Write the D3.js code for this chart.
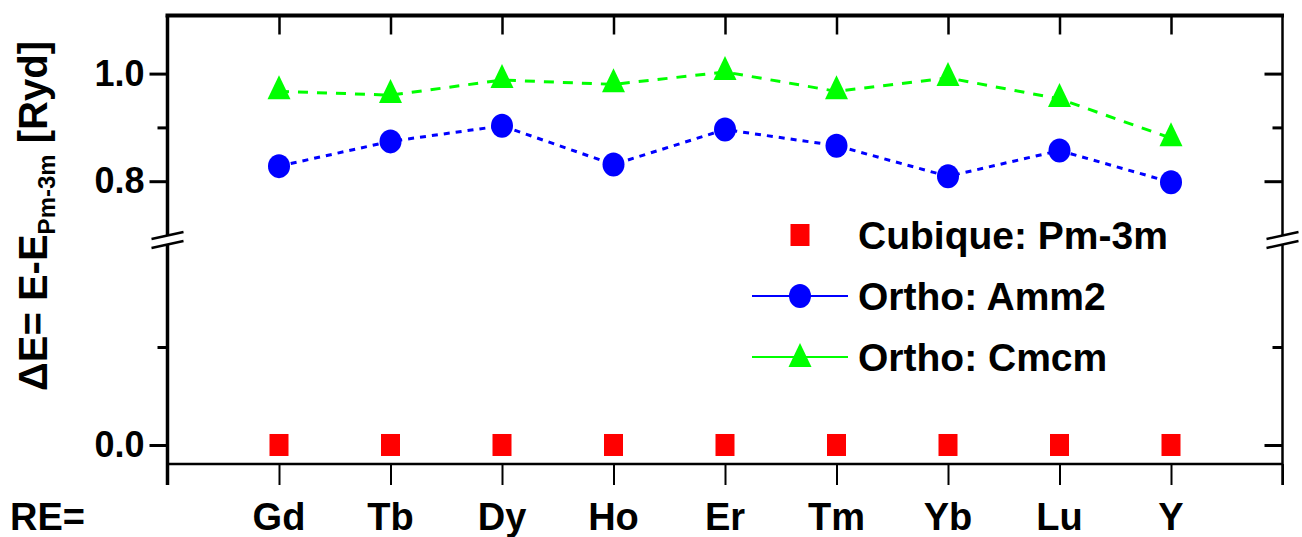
<!DOCTYPE html>
<html><head><meta charset="utf-8">
<script src="https://cdn.jsdelivr.net/npm/d3@7"></script>
<style>
html,body{margin:0;padding:0;background:#fff;}
svg{display:block;font-family:"Liberation Sans",Arial,Helvetica,sans-serif;font-weight:bold;}
</style></head><body>
<svg id="chart" width="1302" height="537"></svg>
<script>
// Rare-earth elements (RE) on the x axis
const elements = ["Gd", "Tb", "Dy", "Ho", "Er", "Tm", "Yb", "Lu", "Y"];
// Energy differences relative to the cubic Pm-3m phase [Ryd]
const cubicPm3m = [0, 0, 0, 0, 0, 0, 0, 0, 0];
const orthoAmm2 = [0.828, 0.874, 0.903, 0.831, 0.896, 0.866, 0.809, 0.857, 0.798];
const orthoCmcm = [0.967, 0.960, 0.988, 0.980, 1.003, 0.967, 0.992, 0.953, 0.880];
const seriesNames = ["Cubique: Pm-3m", "Ortho: Amm2", "Ortho: Cmcm"];
// Tick values of the broken y axis
const upperMajorTicks = [0.8, 1.0];
const upperMinorTicks = [0.9];
const lowerMajorTicks = [0.0];
const lowerMinorTicks = [0.1];

const RED = "#ff0000", BLUE = "#0000ff", GREEN = "#00ff00";
const svg = d3.select("#chart");

const L = 167.5, R = 1282.5, T = 15.5, B = 464;
const breakUpper = 235, breakLower = 244;

const x = d3.scaleLinear().domain([0, 10]).range([L, R]);
const yUp = d3.scaleLinear().domain([0.70, 1.108]).range([breakUpper, T]);
const yLow = d3.scaleLinear().domain([-0.0194, 0.2061]).range([B, 243]);

const fmt = d3.format(".1f");

// ---- axes ----
const axes = svg.append("g");

function styleAxis(g, width) {
  g.select(".domain").remove();
  g.selectAll(".tick line").attr("stroke", "#000").attr("stroke-width", width);
  g.selectAll(".tick text").attr("fill", "#000");
}

// bottom axis: ticks at every element plus both frame ends
const xBottom = axes.append("g").attr("transform", `translate(0,${B})`)
  .call(d3.axisBottom(x).tickValues(d3.range(0, 11)).tickSize(21).tickFormat(""));
styleAxis(xBottom, 2);

// top axis: inward ticks at each element
const xTop = axes.append("g").attr("transform", `translate(0,${T})`)
  .call(d3.axisTop(x).tickValues(d3.range(1, 10)).tickSize(-19).tickFormat(""));
styleAxis(xTop, 2.5);

// element labels
axes.append("g").selectAll("text").data(elements).join("text")
  .attr("x", (d, i) => x(i + 1)).attr("y", 530)
  .attr("text-anchor", "middle").attr("font-size", 38).text(d => d);
axes.append("text").attr("x", 10).attr("y", 530).attr("font-size", 38).text("RE=");

// left axis (outward ticks), both segments
function leftAxis(scale, major, minor) {
  const gM = axes.append("g").attr("transform", `translate(${L},0)`)
    .call(d3.axisLeft(scale).tickValues(major).tickSize(18).tickPadding(5).tickFormat(fmt));
  styleAxis(gM, 3);
  gM.selectAll(".tick text").attr("font-size", 36).attr("font-family", "Liberation Sans, Arial, sans-serif");
  const gm = axes.append("g").attr("transform", `translate(${L},0)`)
    .call(d3.axisLeft(scale).tickValues(minor).tickSize(10).tickFormat(""));
  styleAxis(gm, 3);
}
leftAxis(yUp, upperMajorTicks, upperMinorTicks);
leftAxis(yLow, lowerMajorTicks, lowerMinorTicks);

// right axis (inward ticks)
function rightAxis(scale, major, minor) {
  const gM = axes.append("g").attr("transform", `translate(${R},0)`)
    .call(d3.axisRight(scale).tickValues(major).tickSize(-18).tickFormat(""));
  styleAxis(gM, 3);
  const gm = axes.append("g").attr("transform", `translate(${R},0)`)
    .call(d3.axisRight(scale).tickValues(minor).tickSize(-10).tickFormat(""));
  styleAxis(gm, 3);
}
rightAxis(yUp, upperMajorTicks, upperMinorTicks);
rightAxis(yLow, lowerMajorTicks, lowerMinorTicks);

// frame lines
const frame = axes.append("g").attr("stroke", "#000").attr("fill", "none");
frame.append("line").attr("x1", L - 2).attr("x2", R + 1.5).attr("y1", T).attr("y2", T).attr("stroke-width", 4);
frame.append("line").attr("x1", L).attr("x2", R).attr("y1", B).attr("y2", B).attr("stroke-width", 2.5);
[[L, 3.5], [R, 2.5]].forEach(([xx, w]) => {
  frame.append("line").attr("x1", xx).attr("x2", xx).attr("y1", T).attr("y2", breakUpper).attr("stroke-width", w);
  frame.append("line").attr("x1", xx).attr("x2", xx).attr("y1", breakLower).attr("y2", B + 21).attr("stroke-width", w);
  // axis break marks
  const bm = axes.append("g").attr("stroke", "#000").attr("stroke-width", 2.5);
  bm.append("line").attr("x1", xx - 16).attr("y1", breakUpper + 4).attr("x2", xx + 16).attr("y2", breakUpper - 3);
  bm.append("line").attr("x1", xx - 16).attr("y1", breakLower + 4).attr("x2", xx + 16).attr("y2", breakLower - 3);
});

// y axis title
const title = svg.append("text")
  .attr("transform", "translate(47,216) rotate(-90)")
  .attr("text-anchor", "middle").attr("font-size", 40);
title.append("tspan").text("ΔE= E-E");
title.append("tspan").attr("font-size", 24).attr("dy", 8).text("Pm-3m");
title.append("tspan").attr("dy", -8).text(" [Ryd]");

// ---- data ----
const plot = svg.append("g");
const idx = d3.range(elements.length);

// custom tall triangle, anchored at its centroid
const triPath = "M0,-16L11.5,8L-11.5,8Z";

const lineUp = d3.line().x(i => x(i + 1));

plot.append("path")
  .attr("d", lineUp.y(i => yUp(orthoCmcm[i]))(idx))
  .attr("fill", "none").attr("stroke", GREEN).attr("stroke-width", 3)
  .attr("stroke-dasharray", "10,9");
plot.append("path")
  .attr("d", lineUp.y(i => yUp(orthoAmm2[i]))(idx))
  .attr("fill", "none").attr("stroke", BLUE).attr("stroke-width", 3)
  .attr("stroke-dasharray", "6,6");

plot.append("g").selectAll("path").data(idx).join("path")
  .attr("d", triPath).attr("fill", GREEN)
  .attr("transform", i => `translate(${x(i + 1)},${yUp(orthoCmcm[i])})`);
plot.append("g").selectAll("ellipse").data(idx).join("ellipse")
  .attr("cx", i => x(i + 1)).attr("cy", i => yUp(orthoAmm2[i]))
  .attr("rx", 11).attr("ry", 12).attr("fill", BLUE);
plot.append("g").selectAll("rect").data(idx).join("rect")
  .attr("x", i => x(i + 1) - 9.5).attr("y", i => yLow(cubicPm3m[i]) - 11)
  .attr("width", 19).attr("height", 22).attr("fill", RED);

// ---- legend ----
const lg = svg.append("g");
const lx = 800, rows = [235, 296, 357];
lg.append("rect").attr("x", lx - 9.5).attr("y", rows[0] - 11).attr("width", 19).attr("height", 22).attr("fill", RED);
lg.append("line").attr("x1", 752).attr("x2", 848).attr("y1", rows[1]).attr("y2", rows[1]).attr("stroke", BLUE).attr("stroke-width", 2);
lg.append("ellipse").attr("cx", lx).attr("cy", rows[1]).attr("rx", 11).attr("ry", 12).attr("fill", BLUE);
lg.append("line").attr("x1", 752).attr("x2", 848).attr("y1", rows[2]).attr("y2", rows[2]).attr("stroke", GREEN).attr("stroke-width", 2);
lg.append("path").attr("d", triPath).attr("fill", GREEN).attr("transform", `translate(${lx},${rows[2] + 2})`);
lg.selectAll("text.lbl").data(seriesNames).join("text").attr("class", "lbl")
  .attr("x", 858).attr("y", (d, i) => rows[i] + 14).attr("font-size", 39).text(d => d);
</script>
</body></html>
